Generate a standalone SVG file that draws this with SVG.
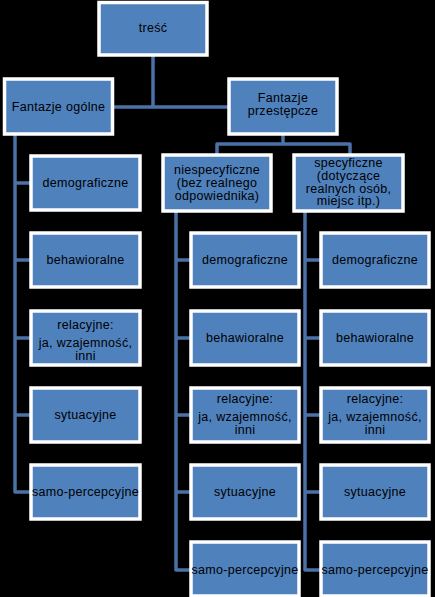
<svg xmlns="http://www.w3.org/2000/svg" width="435" height="597" viewBox="0 0 435 597">
<style>
.bg{fill:#000}
.box{fill:#4f81bd;stroke:#fff;stroke-width:3.5}
.t{font-family:"Liberation Sans",Arial,sans-serif;font-size:12.5px;fill:#000;text-anchor:middle;letter-spacing:0.3px}
.c{fill:none;stroke:#4a72a6;stroke-width:3.5;stroke-linejoin:round}
</style>
<rect class="bg" x="0" y="0" width="435" height="597"/>
<g id="connectors">
<path class="c" d="M153 55V107M112 107H229"/>
<path class="c" d="M283 134V144M217 155V144H350V155"/>
<path class="c" d="M15 134V492H31M15 183H31M15 260H31M15 338H31M15 415H31"/>
<path class="c" d="M176 211V570H191M176 260H191M176 338H191M176 415H191M176 492H191"/>
<path class="c" d="M305 211V570H321M305 260H321M305 338H321M305 415H321M305 492H321"/>
</g>
<g id="tresc"><rect class="box" x="99" y="2.5" width="108" height="52.5"/><text class="t" x="153" y="32">treść</text></g>
<g id="ogolne"><rect class="box" x="4.5" y="79" width="108" height="55"/><text class="t" x="58.5" y="111">Fantazje ogólne</text></g>
<g id="przestepcze"><rect class="box" x="229" y="79" width="108" height="55"/><text class="t" x="283" y="102">Fantazje</text><text class="t" x="283" y="115">przestępcze</text></g>
<g id="niespec"><rect class="box" x="163" y="155" width="108" height="56"/><text class="t" x="217" y="174">niespecyficzne</text><text class="t" x="217" y="187">(bez realnego</text><text class="t" x="217" y="200">odpowiednika)</text></g>
<g id="spec"><rect class="box" x="294" y="155" width="109" height="56"/><text class="t" x="348.5" y="167">specyficzne</text><text class="t" x="348.5" y="179.5">(dotyczące</text><text class="t" x="348.5" y="192.5">realnych osób,</text><text class="t" x="348.5" y="205">miejsc itp.)</text></g>
<g id="l1"><rect class="box" x="31" y="156" width="109" height="54"/><text class="t" x="85.5" y="187">demograficzne</text></g>
<g id="l2"><rect class="box" x="31" y="233" width="109" height="54"/><text class="t" x="85.5" y="264">behawioralne</text></g>
<g id="l3"><rect class="box" x="31" y="311" width="109" height="54"/><text class="t" x="85.5" y="329">relacyjne:</text><text class="t" x="85.5" y="347">ja, wzajemność,</text><text class="t" x="85.5" y="360">inni</text></g>
<g id="l4"><rect class="box" x="31" y="388" width="109" height="54"/><text class="t" x="85.5" y="419">sytuacyjne</text></g>
<g id="l5"><rect class="box" x="31" y="465" width="109" height="54"/><text class="t" x="85.5" y="496">samo-percepcyjne</text></g>
<g id="m1"><rect class="box" x="191" y="233" width="108" height="54"/><text class="t" x="245" y="264">demograficzne</text></g>
<g id="m2"><rect class="box" x="191" y="311" width="108" height="54"/><text class="t" x="245" y="342">behawioralne</text></g>
<g id="m3"><rect class="box" x="191" y="388" width="108" height="54"/><text class="t" x="245" y="403">relacyjne:</text><text class="t" x="245" y="421">ja, wzajemność,</text><text class="t" x="245" y="434">inni</text></g>
<g id="m4"><rect class="box" x="191" y="465" width="108" height="54"/><text class="t" x="245" y="496">sytuacyjne</text></g>
<g id="m5"><rect class="box" x="191" y="542" width="108" height="54"/><text class="t" x="245" y="574">samo-percepcyjne</text></g>
<g id="r1"><rect class="box" x="321" y="233" width="108" height="54"/><text class="t" x="375" y="264">demograficzne</text></g>
<g id="r2"><rect class="box" x="321" y="311" width="108" height="54"/><text class="t" x="375" y="342">behawioralne</text></g>
<g id="r3"><rect class="box" x="321" y="388" width="108" height="54"/><text class="t" x="375" y="403">relacyjne:</text><text class="t" x="375" y="421">ja, wzajemność,</text><text class="t" x="375" y="434">inni</text></g>
<g id="r4"><rect class="box" x="321" y="465" width="108" height="54"/><text class="t" x="375" y="496">sytuacyjne</text></g>
<g id="r5"><rect class="box" x="321" y="542" width="108" height="54"/><text class="t" x="375" y="574">samo-percepcyjne</text></g>
</svg>
